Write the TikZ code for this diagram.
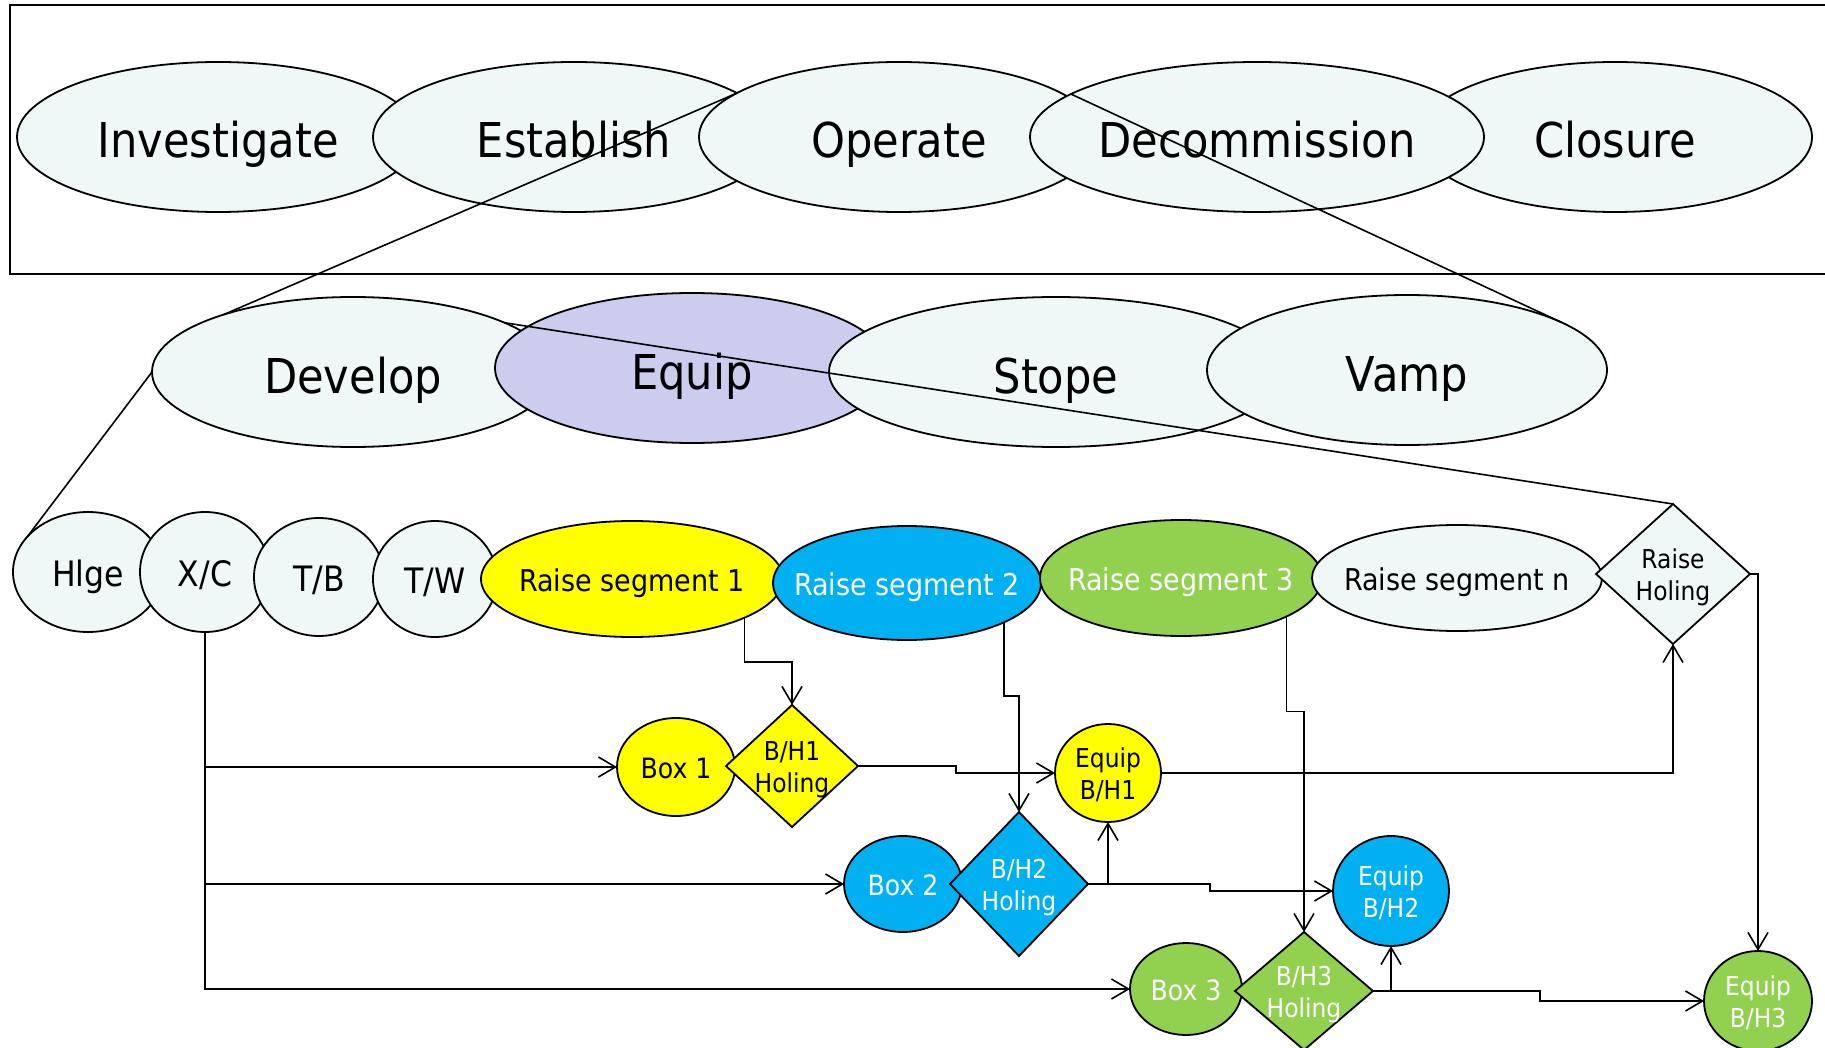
\documentclass[tikz,border=0pt]{standalone}
\usepackage{fontspec}
\setmainfont[FakeStretch=0.9]{DejaVu Sans}
\usetikzlibrary{shapes.geometric,arrows.meta}

\definecolor{pale}{RGB}{240,248,247}
\definecolor{lilac}{RGB}{204,204,238}
\definecolor{segyellow}{RGB}{255,255,0}
\definecolor{segblue}{RGB}{0,176,240}
\definecolor{seggreen}{RGB}{146,208,80}

% zero width labels, so the text never grows the shape
\newcommand{\one}[1]{\makebox[0pt]{#1}}
\newcommand{\two}[2]{\makebox[0pt]{\begin{tabular}{@{}c@{}}#1\\#2\end{tabular}}}

\begin{document}
\begin{tikzpicture}[x=1pt,y=-1pt]
\tikzstyle{base}=[draw,line width=1.8pt,inner sep=0pt,outer sep=0pt]
\tikzstyle{phase}=[base,ellipse,fill=pale,minimum height=150,font=\fontsize{48}{56}\selectfont,text height=42pt,text depth=0pt]
\tikzstyle{blob}=[base,ellipse]
\tikzstyle{pair}=[font=\fontsize{26}{32}\selectfont,text height=21pt,text depth=0pt]
\tikzstyle{hole}=[base,diamond,pair]
\tikzstyle{link}=[line width=1.6pt,-{Straight Barb[length=17pt,width=20pt]}]
\tikzstyle{zoom}=[line width=1.6pt]

\useasboundingbox (0,0) rectangle (1825,1048);
\draw[line width=2pt] (10,5) rectangle (1840,274);

% mine life
\foreach \name/\point/\w/\txt in {
	inv/{218,137}/402/Investigate,
	est/{574,137}/402/Establish,
	ope/{899,137}/400/Operate,
	clo/{1615,137}/394/Closure,
	dec/{1257,137}/454/Decommission}
	\node[phase,minimum width=\w] (\name) at (\point) {\one{\txt}};

% operate
\foreach \name/\point/\w/\col/\txt in {
	dev/{353,372}/402/pale/Develop,
	eqp/{692,368}/394/lilac/Equip,
	stp/{1056,372}/454/pale/Stope,
	vmp/{1407,370}/400/pale/Vamp}
	\node[phase,fill=\col,minimum width=\w] (\name) at (\point) {\one{\txt}};

% equip
\foreach \name/\point/\w/\h/\txt in {
	hlg/{88,572}/150/120/Hlge,
	xc/{205,572}/130/120/{X/C},
	tb/{319,577}/130/118/{T/B},
	tw/{435,579}/124/116/{T/W}}
	\node[blob,fill=pale,minimum width=\w,minimum height=\h,font=\fontsize{35}{40}\selectfont,text height=28pt,text depth=0pt] (\name) at (\point) {\one{\txt}};
\foreach \name/\point/\w/\h/\col/\tc/\txt in {
	rs1/{632,579}/302/116/segyellow/black/Raise segment 1,
	rs2/{907,583}/268/114/segblue/white/Raise segment 2,
	rs3/{1181,578}/282/116/seggreen/white/Raise segment 3,
	rsn/{1457,578}/290/106/pale/black/Raise segment n}
	\node[blob,fill=\col,text=\tc,minimum width=\w,minimum height=\h,font=\fontsize{30}{36}\selectfont,text height=25pt,text depth=0pt] (\name) at (\point) {\one{\txt}};
\node[hole,fill=pale,minimum width=154,minimum height=140] (rh) at (1673,574) {\two{Raise}{Holing}};

\tikzstyle{boxlbl}=[font=\fontsize{28}{32}\selectfont,text height=22pt,text depth=0pt]
\node[blob,boxlbl,fill=segyellow,minimum width=118,minimum height=98] (box1) at (676,767) {\one{Box 1}};
\node[hole,fill=segyellow,minimum width=132,minimum height=122] (bh1) at (792,766) {\two{B/H1}{Holing}};
\node[blob,pair,fill=segyellow,minimum width=106,minimum height=98] (eq1) at (1108,773) {\two{Equip}{B/H1}};

\node[blob,boxlbl,fill=segblue,text=white,minimum width=118,minimum height=96] (box2) at (903,884) {\one{Box 2}};
\node[hole,fill=segblue,text=white,minimum width=138,minimum height=144] (bh2) at (1019,884) {\two{B/H2}{Holing}};
\node[blob,pair,fill=segblue,text=white,minimum width=116,minimum height=110] (eq2) at (1391,891) {\two{Equip}{B/H2}};

\node[blob,boxlbl,fill=seggreen,text=white,minimum width=112,minimum height=92] (box3) at (1186,989) {\one{Box 3}};
\node[hole,fill=seggreen,text=white,minimum width=138,minimum height=118] (bh3) at (1304,991) {\two{B/H3}{Holing}};
\node[blob,pair,fill=seggreen,text=white,minimum width=108,minimum height=100] (eq3) at (1758,1001) {\two{Equip}{B/H3}};

% zoom lines between the levels
\draw[zoom] (ope.165) -- (dev.156);
\draw[zoom] (dec.167) -- (vmp.17);
\draw[zoom] (dev.18) -- (rh.north);
\draw[zoom] (dev.west) -- (hlg.150);

% flow
\draw[link] (xc.south) |- (box1.west);
\draw[link] (xc.south) |- (box2.west);
\draw[link] (xc.south) |- (box3.west);
\draw[link] (rs1.-19) -- ++(0,44) -| (bh1.north);
\draw[link] (rs2.-22) -- ++(0,74) -| (bh2.north);
\draw[link] (rs3.-20) -- ++(0,95) -| (bh3.north);
\draw[link] (bh1.east) -- ++(98,0) |- (eq1.west);
\draw[link] (eq1.east) -| (rh.south);
\draw[link] (bh2.east) -| (eq1.south);
\draw[link] (bh2.east) -- ++(122,0) |- (eq2.west);
\draw[link] (bh3.east) -| (eq2.south);
\draw[link] (bh3.east) -- ++(167,0) |- (eq3.west);
\draw[link] (rh.east) -| (eq3.north);
\end{tikzpicture}
\end{document}
